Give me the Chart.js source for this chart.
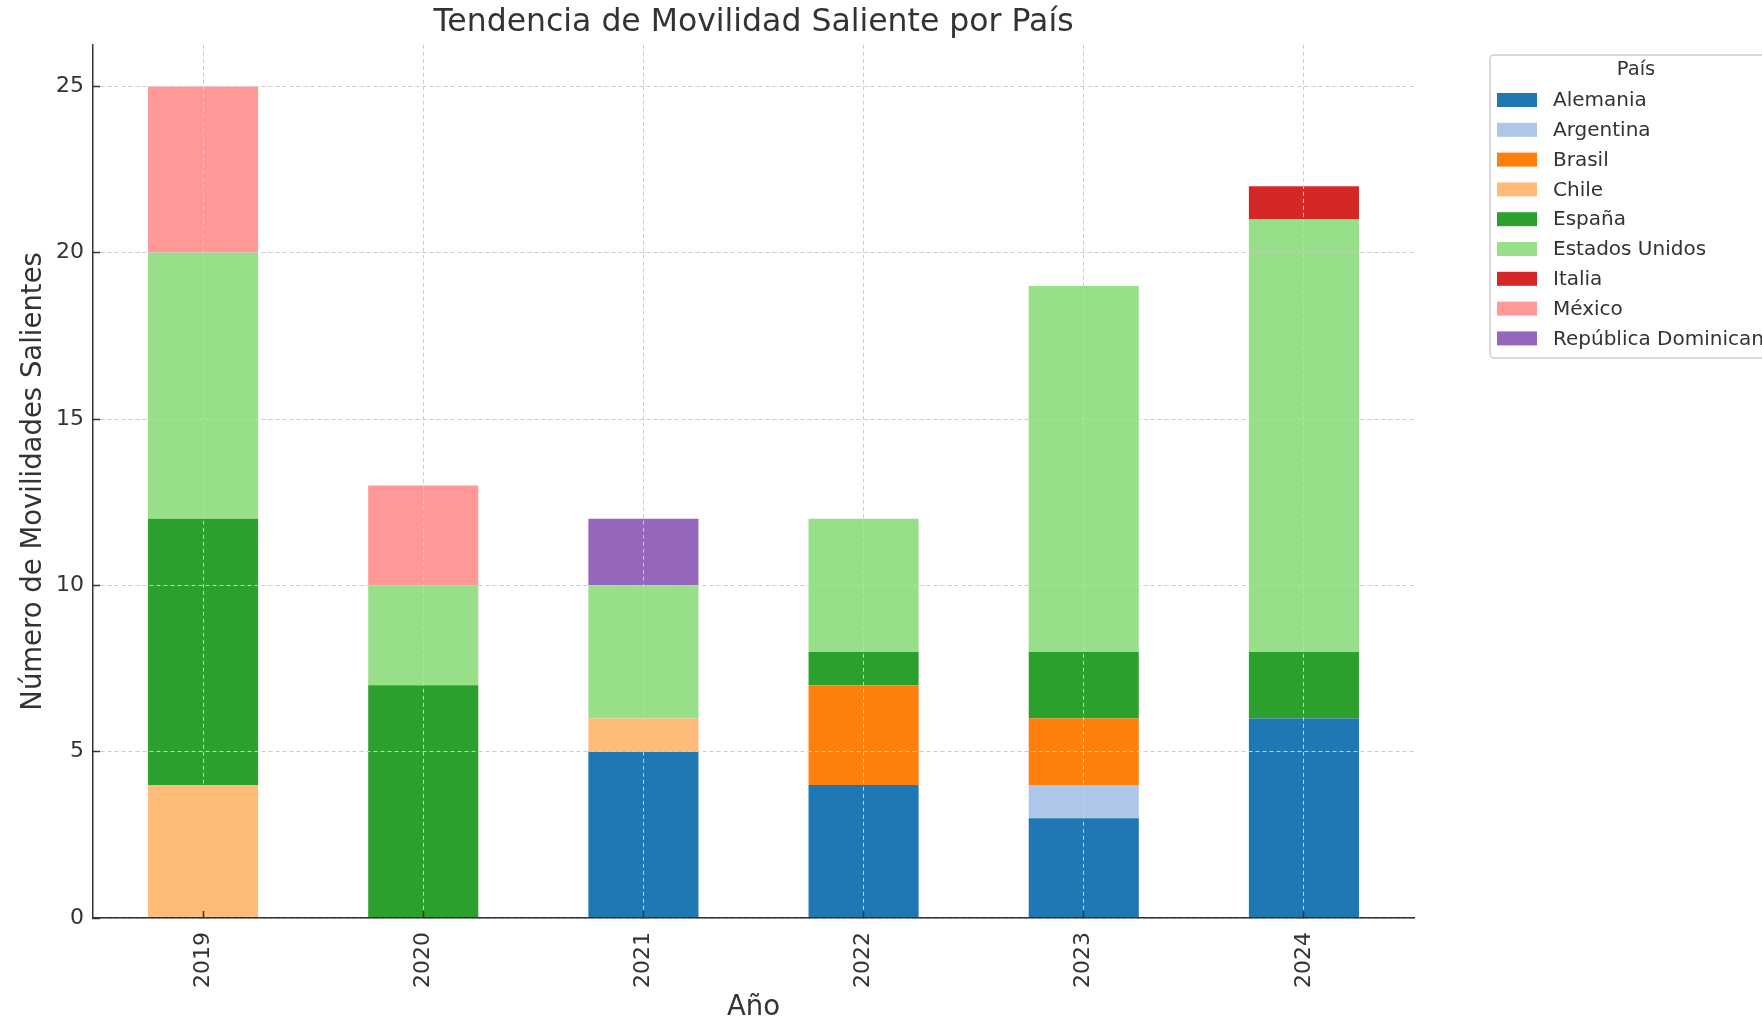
<!DOCTYPE html>
<html>
<head>
<meta charset="utf-8">
<script src="https://cdn.jsdelivr.net/npm/chart.js@4.4.1/dist/chart.umd.min.js"></script>
<style>
  html, body { margin: 0; padding: 0; background: #fff; }
  #wrap { width: 1762px; height: 1018px; }
</style>
</head>
<body>
<div id="wrap"><canvas id="movChart" width="1762" height="1018"></canvas></div>
<script>
const years = ['2019', '2020', '2021', '2022', '2023', '2024'];

// one array per country, null where the country has no bar segment
const alemania       = [null, null, 5, 4, 3, 6];
const argentina      = [null, null, null, null, 1, null];
const brasil         = [null, null, null, 3, 2, null];
const chile          = [4, null, 1, null, null, null];
const espana         = [8, 7, null, 1, 2, 2];
const estadosUnidos  = [8, 3, 4, 4, 11, 13];
const italia         = [null, null, null, null, null, 1];
const mexico         = [5, 3, null, null, null, null];
const repDominicana  = [null, null, 2, null, null, null];

const yTicks = [0, 5, 10, 15, 20, 25];

const series = [
    ['Alemania', alemania, '#1f77b4'],
    ['Argentina', argentina, '#aec7e8'],
    ['Brasil', brasil, '#ff7f0e'],
    ['Chile', chile, '#ffbb78'],
    ['España', espana, '#2ca02c'],
    ['Estados Unidos', estadosUnidos, '#98df8a'],
    ['Italia', italia, '#d62728'],
    ['México', mexico, '#ff9896'],
    ['República Dominicana', repDominicana, '#9467bd'],
];

const FONT = "'DejaVu Sans', sans-serif";
const TEXT = '#333333';

// legend drawn by hand: matplotlib style box with title, cut off at the right edge
const boxLegend = {
    id: 'boxLegend',
    afterDraw(chart) {
        const ctx = chart.ctx;
        const x = 1490, y = 55, w = 300, h = 303;
        ctx.save();
        ctx.fillStyle = 'rgba(255,255,255,0.8)';
        ctx.strokeStyle = '#cccccc';
        ctx.lineWidth = 1.5;
        ctx.beginPath();
        ctx.roundRect(x, y, w, h, 4);
        ctx.fill();
        ctx.stroke();

        ctx.fillStyle = TEXT;
        ctx.font = '19.5px ' + FONT;
        ctx.textAlign = 'center';
        ctx.textBaseline = 'middle';
        ctx.fillText('País', 1636, 70);

        ctx.textAlign = 'left';
        ctx.font = '20px ' + FONT;
        chart.data.datasets.forEach((ds, i) => {
            const cy = 100 + i * 29.8;
            ctx.fillStyle = ds.backgroundColor;
            ctx.fillRect(1497, cy - 7, 40, 14);
            ctx.fillStyle = TEXT;
            ctx.fillText(ds.label, 1553, cy + 1);
        });
        ctx.restore();
    }
};

const ctx = document.getElementById('movChart').getContext('2d');

new Chart(ctx, {
    type: 'bar',
    data: {
        labels: years,
        datasets: series.map(([name, values, color]) => ({
            label: name,
            data: values,
            backgroundColor: color,
            borderWidth: 0,
            categoryPercentage: 1.0,
            barPercentage: 0.5
        }))
    },
    options: {
        responsive: false,
        animation: false,
        layout: { padding: { left: 0, right: 348, top: 0, bottom: 0 } },
        plugins: {
            legend: { display: false },
            tooltip: { enabled: false },
            title: {
                display: true,
                fullSize: false,   // centre over the plot area only
                text: 'Tendencia de Movilidad Saliente por País',
                color: TEXT,
                font: { family: FONT, size: 31.5, weight: 'normal' },
                padding: { top: 4, bottom: 3 }
            }
        },
        scales: {
            x: {
                stacked: true,
                grid: {
                    offset: false,
                    color: '#cccccc',
                    lineWidth: 1,
                    z: 1,
                    tickColor: TEXT,
                    tickWidth: 1.5,
                    tickLength: -7,   // inward ticks
                    tickBorderDash: []
                },
                border: { display: true, color: '#333333', width: 1.5, dash: [4, 3], z: 2 },
                ticks: {
                    color: TEXT,
                    font: { family: FONT, size: 22 },
                    minRotation: 90,
                    maxRotation: 90,
                    padding: 21
                },
                title: {
                    display: true,
                    text: 'Año',
                    color: TEXT,
                    font: { family: FONT, size: 27.5, lineHeight: 1 },
                    padding: { top: 0, bottom: -4 }
                },
                afterFit(scale) { scale.height = 100; }
            },
            y: {
                stacked: true,
                min: 0,
                max: 26.25,
                afterBuildTicks(scale) {
                    scale.ticks = yTicks.map(v => ({ value: v }));
                },
                grid: {
                    color: '#cccccc',
                    lineWidth: 1,
                    z: 1,
                    tickColor: TEXT,
                    tickWidth: 1.5,
                    tickLength: -7,   // inward ticks
                    tickBorderDash: []
                },
                border: { display: true, color: '#333333', width: 1.5, dash: [4, 3], z: 2 },
                ticks: {
                    color: TEXT,
                    font: { family: FONT, size: 22 },
                    padding: 16
                },
                title: {
                    display: true,
                    text: 'Número de Movilidades Salientes',
                    color: TEXT,
                    font: { family: FONT, size: 27.5 },
                    padding: { top: 17, bottom: 0 }
                },
                afterFit(scale) { scale.width = 93; }
            }
        }
    },
    plugins: [boxLegend]
});
</script>
</body>
</html>
